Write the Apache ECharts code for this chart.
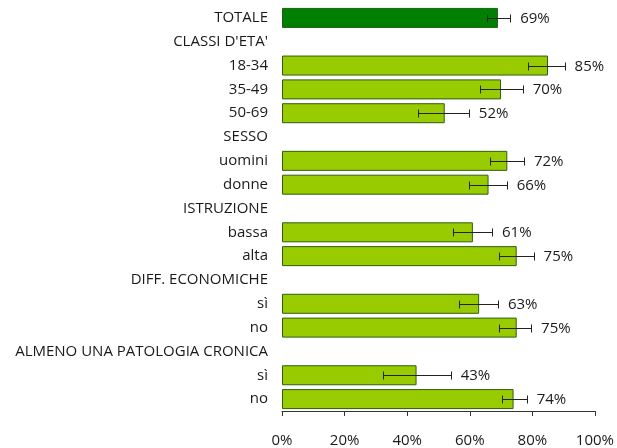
<!DOCTYPE html>
<html><head><meta charset="utf-8">
<script src="https://cdn.jsdelivr.net/npm/echarts@6/dist/echarts.min.js"></script>
<style>html,body{margin:0;padding:0;background:#fff}#c{width:617px;height:448px}</style>
</head><body><div id="c"></div>
<script>
var categories = ["TOTALE","CLASSI D'ETA'","18-34","35-49","50-69","SESSO","uomini","donne","ISTRUZIONE","bassa","alta","DIFF. ECONOMICHE","sì","no","ALMENO UNA PATOLOGIA CRONICA","sì","no"];
var values = [69,null,85,70,52,null,72,66,null,61,75,null,63,75,null,43,74];
var errLow = [65.5,null,78.6,63.4,43.5,null,66.5,59.7,null,54.5,69.5,null,56.5,69.2,null,32.2,70.3];
var errHigh = [72.9,null,90.3,76.9,59.7,null,77.3,71.8,null,67.1,80.4,null,69,79.6,null,53.9,78.2];
var xTicks = [0,20,40,60,80,100];

var FONT = '"Open Sans"';
var barData = values.map(function(v,i){
  if (v === null) return null;
  return {value: v, itemStyle: {color: i === 0 ? '#008000' : '#99cc00', borderColor: i === 0 ? '#1d5e12' : '#2f5e10', borderWidth: 1}};
});
var errData = [];
values.forEach(function(v,i){ if (v !== null) errData.push([i, errLow[i], errHigh[i], v]); });

var chart = echarts.init(document.getElementById('c'));
chart.setOption({
  animation: false,
  grid: {left: 282, right: 21, top: 6, bottom: 34, containLabel: false},
  xAxis: {
    type: 'value', min: xTicks[0], max: xTicks[xTicks.length-1], interval: 20,
    axisLine: {show: true, lineStyle: {color: '#333', width: 1}},
    axisTick: {show: true, length: 5, lineStyle: {color: '#333'}},
    splitLine: {show: false},
    axisLabel: {formatter: '{value}%', color: '#1a1a1a', fontFamily: FONT, fontSize: 15, margin: 22}
  },
  yAxis: {
    type: 'category', data: categories, inverse: true,
    axisLine: {show: false}, axisTick: {show: false}, splitLine: {show: false},
    axisLabel: {color: '#1a1a1a', fontFamily: FONT, fontSize: 15, margin: 14}
  },
  series: [{
    type: 'bar', data: barData, barWidth: 20, silent: true, z: 2
  }, {
    type: 'custom', data: errData, silent: true, z: 5,
    renderItem: function(params, api){
      var c = api.value(0);
      var lo = api.coord([api.value(1), c]);
      var hi = api.coord([api.value(2), c]);
      var y = Math.round(lo[1]) + 0.5;
      var x1 = Math.round(lo[0]) + 0.5, x2 = Math.round(hi[0]) + 0.5;
      var st = {stroke: '#222', lineWidth: 1};
      return {type: 'group', children: [
        {type: 'line', shape: {x1: x1, y1: y, x2: x2, y2: y}, style: st},
        {type: 'line', shape: {x1: x1, y1: y-4, x2: x1, y2: y+4}, style: st},
        {type: 'line', shape: {x1: x2, y1: y-4, x2: x2, y2: y+4}, style: st},
        {type: 'text', x: hi[0] + 10, y: y, style: {text: api.value(3) + '%', fill: '#1a1a1a', font: '15px ' + FONT, verticalAlign: 'middle', align: 'left'}}
      ]};
    },
    encode: {x: [1,2], y: 0}
  }]
});
</script></body></html>
